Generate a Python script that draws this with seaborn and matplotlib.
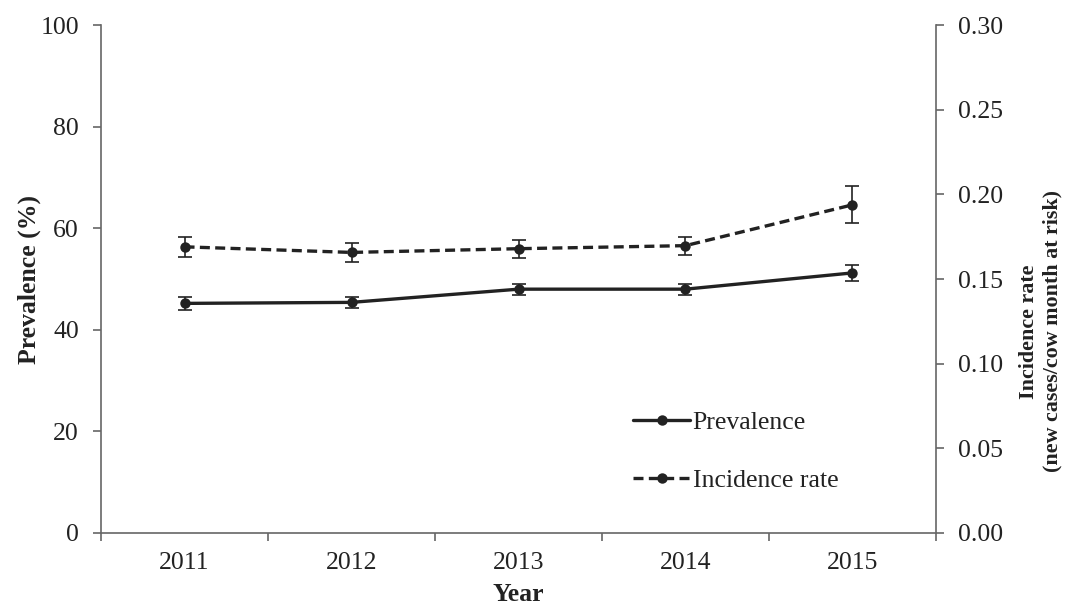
import matplotlib
matplotlib.use("Agg")
import matplotlib.pyplot as plt
from matplotlib.ticker import FixedLocator, FormatStrFormatter
import seaborn as sns
import pandas as pd
import numpy as np

# Annual values
years = ["2011", "2012", "2013", "2014", "2015"]
prevalence = [45.2, 45.4, 48.0, 48.0, 51.2]
prevalence_err = [1.3, 1.15, 1.1, 1.1, 1.6]
incidence = [0.169, 0.1657, 0.1679, 0.1697, 0.1938]
incidence_err = [0.0059, 0.0056, 0.0053, 0.0053, 0.011]

sns.set_theme(style="white")
plt.rcParams["font.family"] = ["Liberation Serif", "DejaVu Serif"]
plt.rcParams["text.color"] = "#222222"
plt.rcParams["axes.labelcolor"] = "#222222"

FS = 18.5

df = pd.DataFrame({"year": years, "prev": prevalence, "prev_err": prevalence_err,
                   "inc": incidence, "inc_err": incidence_err})

fig = plt.figure(figsize=(10.67, 6.06), dpi=100)
ax = fig.add_axes([0.0947, 0.1205, 0.7825, 0.8382])
ax2 = ax.twinx()

line_col = "#222222"
spine_col = "#666666"

sns.lineplot(data=df, x="year", y="prev", ax=ax, color=line_col, lw=2.4,
             marker="o", markersize=9.5, markeredgewidth=0, sort=False,
             label="Prevalence", legend=False)
ax.errorbar(np.arange(len(years)), df["prev"], yerr=df["prev_err"], fmt="none",
            ecolor=line_col, elinewidth=1.2, capsize=5, capthick=1.2)

sns.lineplot(data=df, x="year", y="inc", ax=ax2, color=line_col, lw=2.4,
             marker="o", markersize=9.5, markeredgewidth=0, sort=False,
             label="Incidence rate", legend=False, linestyle=(0, (3, 1.6)))
ax2.errorbar(np.arange(len(years)), df["inc"], yerr=df["inc_err"], fmt="none",
             ecolor=line_col, elinewidth=1.2, capsize=5, capthick=1.2)

ax.set_xlim(-0.5, len(years) - 0.5)
ax.set_ylim(0, 100)
ax2.set_ylim(0, 0.30)
ax.set_yticks(np.arange(0, 101, 20))
ax2.set_yticks(np.arange(0, 0.301, 0.05))
ax2.yaxis.set_major_formatter(FormatStrFormatter("%.2f"))

ax.set_xticks(np.arange(len(years)))
ax.set_xticklabels(years)
ax.xaxis.set_minor_locator(FixedLocator(np.arange(-0.5, len(years), 1.0)))

for a in (ax, ax2):
    a.grid(False)
    for s in a.spines.values():
        s.set_visible(False)
ax.spines["left"].set_visible(True)
ax.spines["bottom"].set_visible(True)
ax2.spines["right"].set_visible(True)
for s in (ax.spines["left"], ax.spines["bottom"], ax2.spines["right"]):
    s.set_color(spine_col)
    s.set_linewidth(1.2)

ax.tick_params(axis="x", which="major", length=0, labelsize=FS, pad=14, colors="#222222")
ax.tick_params(axis="x", which="minor", length=6, width=1.2, color=spine_col, direction="out", bottom=True)
ax.tick_params(axis="y", length=6, width=1.2, color=spine_col, direction="out", left=True,
               labelsize=FS, labelcolor="#222222", pad=10)
ax2.tick_params(axis="y", length=6, width=1.2, color=spine_col, direction="out", right=True,
                labelsize=FS, labelcolor="#222222", pad=10)

ax.set_xlabel("Year", fontsize=FS, fontweight="bold", labelpad=6)
ax.set_ylabel("Prevalence (%)", fontsize=FS, fontweight="bold")
ax.yaxis.set_label_coords(-0.072, 0.5)
ax2.set_ylabel("Incidence rate\n(new cases/cow month at risk)", fontsize=15.8,
               fontweight="bold", rotation=90, linespacing=1.2)
ax2.yaxis.set_label_coords(1.1, 0.397)

h1, l1 = ax.get_legend_handles_labels()
h2, l2 = ax2.get_legend_handles_labels()
for h in h1 + h2:
    h.set_markersize(7.5)
leg = ax2.legend(h1 + h2, l1 + l2, loc="lower left", bbox_to_anchor=(0.61, 0.036),
                 frameon=False, fontsize=FS, handlelength=2.2, handletextpad=0.1,
                 labelspacing=1.35)

fig.savefig("out.png", dpi=100)
